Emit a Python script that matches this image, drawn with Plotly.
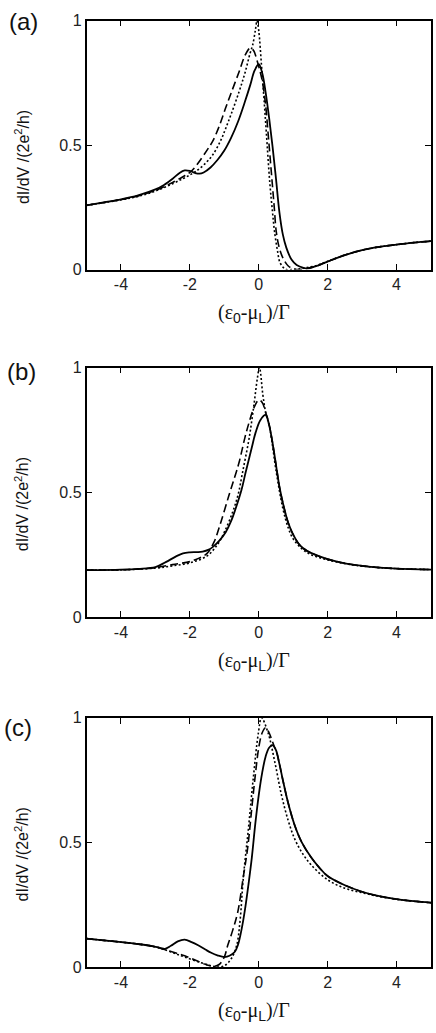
import plotly.graph_objects as go

# ---------------- data ----------------
# Panel (a)
a_solid_x = [-5, -4.5, -4, -3.5, -3, -2.75, -2.5, -2.3, -2.15, -2.0, -1.85, -1.72, -1.6, -1.4, -1.2, -1.0,
             -0.8, -0.6, -0.4, -0.25, -0.12, 0.0, 0.1, 0.2, 0.3, 0.4, 0.5, 0.6, 0.7, 0.8, 0.95, 1.1,
             1.3, 1.45, 1.7, 2.0, 2.5, 3.0, 3.5, 4.0, 4.5, 5.0]
a_solid_y = [0.258, 0.270, 0.282, 0.298, 0.322, 0.340, 0.365, 0.388, 0.398, 0.396, 0.388, 0.385, 0.390, 0.410, 0.440, 0.478,
             0.530, 0.595, 0.675, 0.740, 0.800, 0.825, 0.790, 0.712, 0.610, 0.495, 0.365, 0.230, 0.140, 0.088, 0.040, 0.018,
             0.007, 0.005, 0.015, 0.032, 0.058, 0.078, 0.091, 0.100, 0.108, 0.114]

a_dash_x = [-5, -4, -3.5, -3, -2.5, -2.2, -2.0, -1.8, -1.5, -1.34, -1.15, -0.96, -0.8, -0.57, -0.4, -0.25,
            -0.15, -0.05, 0.05, 0.11, 0.2, 0.27, 0.33, 0.39, 0.45, 0.51, 0.6, 0.7, 0.85, 1.0, 1.2, 1.4,
            1.7, 2.0, 2.5, 3.0, 3.5, 4.0, 4.5, 5.0]
a_dash_y = [0.258, 0.281, 0.296, 0.318, 0.350, 0.373, 0.390, 0.420, 0.480, 0.515, 0.575, 0.650, 0.710, 0.795, 0.860, 0.890,
            0.880, 0.840, 0.790, 0.752, 0.660, 0.550, 0.450, 0.350, 0.250, 0.150, 0.085, 0.047, 0.015, 0.003, 0.000, 0.004,
            0.015, 0.032, 0.058, 0.078, 0.091, 0.100, 0.108, 0.114]

a_dot_x = [-5, -4, -3.5, -3, -2.5, -2.2, -2.0, -1.83, -1.6, -1.34, -1.1, -0.96, -0.8, -0.57, -0.4, -0.25,
           -0.18, -0.1, -0.05, 0.0, 0.08, 0.15, 0.22, 0.32, 0.4, 0.46, 0.55, 0.61, 0.7, 0.8, 1.0, 1.2,
           1.4, 1.7, 2.0, 2.5, 3.0, 3.5, 4.0, 4.5, 5.0]
a_dot_y = [0.258, 0.280, 0.294, 0.315, 0.345, 0.365, 0.380, 0.394, 0.420, 0.460, 0.520, 0.567, 0.625, 0.715, 0.790, 0.870,
           0.900, 0.960, 1.000, 0.960, 0.820, 0.690, 0.550, 0.350, 0.230, 0.150, 0.070, 0.030, 0.010, 0.000, 0.000, 0.003,
           0.008, 0.017, 0.033, 0.058, 0.078, 0.091, 0.100, 0.108, 0.114]

# Panel (b)
b_solid_x = [-5, -4, -3.5, -3, -2.7, -2.4, -2.2, -2.0, -1.8, -1.63, -1.45, -1.34, -1.15, -0.96, -0.8, -0.67,
             -0.5, -0.38, -0.2, -0.09, 0.05, 0.2, 0.3, 0.41, 0.5, 0.61, 0.73, 0.85, 1.0, 1.19, 1.4, 1.67,
             2.0, 2.54, 3.0, 3.51, 4.0, 5.0]
b_solid_y = [0.188, 0.190, 0.193, 0.200, 0.220, 0.243, 0.255, 0.259, 0.260, 0.262, 0.270, 0.280, 0.305, 0.340, 0.385, 0.435,
             0.510, 0.580, 0.680, 0.740, 0.790, 0.810, 0.770, 0.690, 0.610, 0.515, 0.440, 0.380, 0.330, 0.288, 0.265, 0.248,
             0.232, 0.214, 0.205, 0.198, 0.194, 0.190]

b_dash_x = [-5, -4, -3.5, -3, -2.5, -2.0, -1.75, -1.5, -1.3, -1.1, -0.86, -0.7, -0.57, -0.4, -0.28, -0.15,
            0.0, 0.1, 0.2, 0.3, 0.41, 0.5, 0.61, 0.73, 0.85, 1.0, 1.19, 1.4, 1.67, 2.0, 2.54, 3.0,
            3.51, 4.0, 5.0]
b_dash_y = [0.188, 0.189, 0.192, 0.198, 0.210, 0.222, 0.235, 0.255, 0.300, 0.380, 0.490, 0.560, 0.620, 0.720, 0.780, 0.835,
            0.870, 0.860, 0.820, 0.772, 0.690, 0.610, 0.515, 0.440, 0.380, 0.330, 0.288, 0.265, 0.248, 0.232, 0.214, 0.205,
            0.198, 0.194, 0.190]

b_dot_x = [-5, -4, -3, -2.5, -2.0, -1.5, -1.2, -1.0, -0.76, -0.6, -0.47, -0.28, -0.14, -0.04, 0.02, 0.12,
           0.2, 0.32, 0.51, 0.7, 0.85, 0.99, 1.2, 1.38, 1.6, 1.86, 2.2, 2.6, 3.0, 3.5, 4.0, 5.0]
b_dot_y = [0.188, 0.189, 0.196, 0.205, 0.217, 0.245, 0.290, 0.340, 0.420, 0.490, 0.580, 0.716, 0.850, 0.957, 1.000, 0.890,
           0.820, 0.756, 0.580, 0.435, 0.360, 0.315, 0.280, 0.260, 0.245, 0.234, 0.222, 0.212, 0.204, 0.198, 0.194, 0.190]

# Panel (c)
c_solid_x = [-5, -4.5, -4, -3.5, -3.1, -2.85, -2.72, -2.55, -2.35, -2.15, -1.95, -1.76, -1.55, -1.38, -1.2, -0.99,
             -0.85, -0.7, -0.6, -0.5, -0.4, -0.3, -0.2, -0.1, 0.0, 0.1, 0.2, 0.3, 0.4, 0.5, 0.6, 0.7,
             0.85, 1.04, 1.25, 1.52, 1.75, 2.0, 2.5, 3.0, 3.5, 4.0, 4.5, 5.0]
c_solid_y = [0.114, 0.107, 0.100, 0.092, 0.084, 0.076, 0.073, 0.085, 0.103, 0.110, 0.100, 0.087, 0.070, 0.057, 0.047, 0.040,
             0.045, 0.060, 0.090, 0.150, 0.230, 0.330, 0.440, 0.575, 0.690, 0.780, 0.845, 0.880, 0.890, 0.870, 0.815, 0.750,
             0.660, 0.570, 0.500, 0.440, 0.400, 0.365, 0.328, 0.302, 0.284, 0.272, 0.264, 0.258]

c_dash_x = [-5, -4.5, -4, -3.5, -3.1, -2.85, -2.5, -2.15, -1.8, -1.5, -1.3, -1.15, -1.0, -0.9, -0.75, -0.61,
            -0.45, -0.32, -0.2, -0.1, 0.0, 0.1, 0.2, 0.3, 0.37, 0.45, 0.5, 0.6, 0.7, 0.85, 1.04, 1.25,
            1.52, 1.75, 2.0, 2.5, 3.0, 3.5, 4.0, 4.5, 5.0]
c_dash_y = [0.114, 0.107, 0.100, 0.092, 0.084, 0.075, 0.060, 0.045, 0.025, 0.008, 0.003, 0.010, 0.040, 0.087, 0.150, 0.220,
            0.360, 0.480, 0.640, 0.770, 0.880, 0.940, 0.960, 0.940, 0.915, 0.885, 0.870, 0.815, 0.750, 0.660, 0.570, 0.500,
            0.440, 0.400, 0.365, 0.328, 0.302, 0.284, 0.272, 0.264, 0.258]

c_dot_x = [-5, -4.5, -4, -3.5, -3.1, -2.85, -2.5, -2.15, -1.67, -1.38, -1.2, -1.0, -0.8, -0.64, -0.54, -0.45,
           -0.3, -0.16, -0.01, 0.08, 0.27, 0.47, 0.66, 0.85, 1.04, 1.25, 1.52, 2.0, 2.5, 3.0, 3.5, 4.0,
           4.5, 5.0]
c_dot_y = [0.114, 0.107, 0.100, 0.092, 0.084, 0.075, 0.058, 0.040, 0.017, 0.005, 0.000, 0.005, 0.033, 0.087, 0.190, 0.355,
           0.555, 0.756, 0.940, 1.000, 0.940, 0.820, 0.690, 0.590, 0.515, 0.460, 0.410, 0.350, 0.316, 0.298, 0.283, 0.272,
           0.264, 0.258]

x_tickvals = [-4, -2, 0, 2, 4]
x_ticktext = ["-4", "-2", "0", "2", "4"]
y_tickvals = [0, 0.5, 1]
y_ticktext = ["0", "0.5", "1"]
panel_labels = ["(a)", "(b)", "(c)"]

# ---------------- layout geometry (pixels) ----------------
W, H = 436, 1033
x_left, x_right = 86.5, 431.0
panels_px = [(20.7, 269.5), (367.5, 617.0), (717.8, 967.0)]  # (top, bottom)
label_pos = [(23, 21), (21, 371), (18, 727)]

def px_x(p):
    return p / W

def px_y(p):
    return 1 - p / H

fig = go.Figure()

series = [
    (a_solid_x, a_solid_y, a_dash_x, a_dash_y, a_dot_x, a_dot_y),
    (b_solid_x, b_solid_y, b_dash_x, b_dash_y, b_dot_x, b_dot_y),
    (c_solid_x, c_solid_y, c_dash_x, c_dash_y, c_dot_x, c_dot_y),
]

annotations = []
serif = "Liberation Serif, Times New Roman, serif"
sans = "Liberation Sans, Arial, Helvetica, sans-serif"
xtitle = ("(ε<span style='font-family:Liberation Sans'><sub>0</sub></span>-μ"
          "<span style='font-family:Liberation Sans'><sub>L</sub></span>)/Γ")

for i, (sx, sy, dx, dy, ox, oy) in enumerate(series):
    n = "" if i == 0 else str(i + 1)
    xa, ya = "x" + n, "y" + n
    common = dict(xaxis=xa, yaxis=ya, mode="lines", showlegend=False, line_shape="spline",
                  hoverinfo="skip")
    fig.add_trace(go.Scatter(x=ox, y=oy, line=dict(color="black", width=1.6, dash="2px,2.2px"), **common))
    fig.add_trace(go.Scatter(x=dx, y=dy, line=dict(color="black", width=1.6, dash="8px,4px"), **common))
    fig.add_trace(go.Scatter(x=sx, y=sy, line=dict(color="black", width=1.8), **common))

    top, bot = panels_px[i]
    axis_common = dict(showline=True, linecolor="black", linewidth=1.5, mirror="allticks",
                       ticks="inside", ticklen=6, tickwidth=1.2, tickcolor="black",
                       showgrid=False, zeroline=False, automargin=False, fixedrange=True,
                       tickfont=dict(family=sans, size=16, color="#222"))
    fig.update_layout(**{
        "xaxis" + n: dict(domain=[px_x(x_left), px_x(x_right)], range=[-5, 5], anchor=ya,
                          tickvals=x_tickvals, ticktext=x_ticktext, **axis_common),
        "yaxis" + n: dict(domain=[px_y(bot), px_y(top)], range=[0, 1], anchor=xa,
                          tickvals=y_tickvals, ticktext=y_ticktext, **axis_common),
    })
    # panel label
    lx, ly = label_pos[i]
    annotations.append(dict(text=panel_labels[i], x=px_x(lx), y=px_y(ly), xref="paper", yref="paper",
                            showarrow=False, xanchor="center", yanchor="middle",
                            font=dict(family=sans, size=24, color="#111")))
    # y title
    annotations.append(dict(text="dI/dV /(2e<sup>2</sup>/h)", x=px_x(22), y=px_y((top + bot) / 2 + 12),
                            xref="paper", yref="paper", showarrow=False, textangle=-90,
                            xanchor="center", yanchor="middle",
                            font=dict(family=sans, size=16, color="#111")))
    # x title
    annotations.append(dict(text=xtitle, x=px_x(254), y=px_y(bot + 44), xref="paper", yref="paper",
                            showarrow=False, xanchor="center", yanchor="middle",
                            font=dict(family=serif, size=20, color="#111")))

fig.update_layout(width=W, height=H, margin=dict(l=0, r=0, t=0, b=0, pad=0, autoexpand=False),
                  paper_bgcolor="white", plot_bgcolor="white", annotations=annotations)

fig.write_html("out.html", config={"displayModeBar": False, "responsive": False},
               post_script="document.body.style.margin='0';document.body.style.overflow='hidden';")
